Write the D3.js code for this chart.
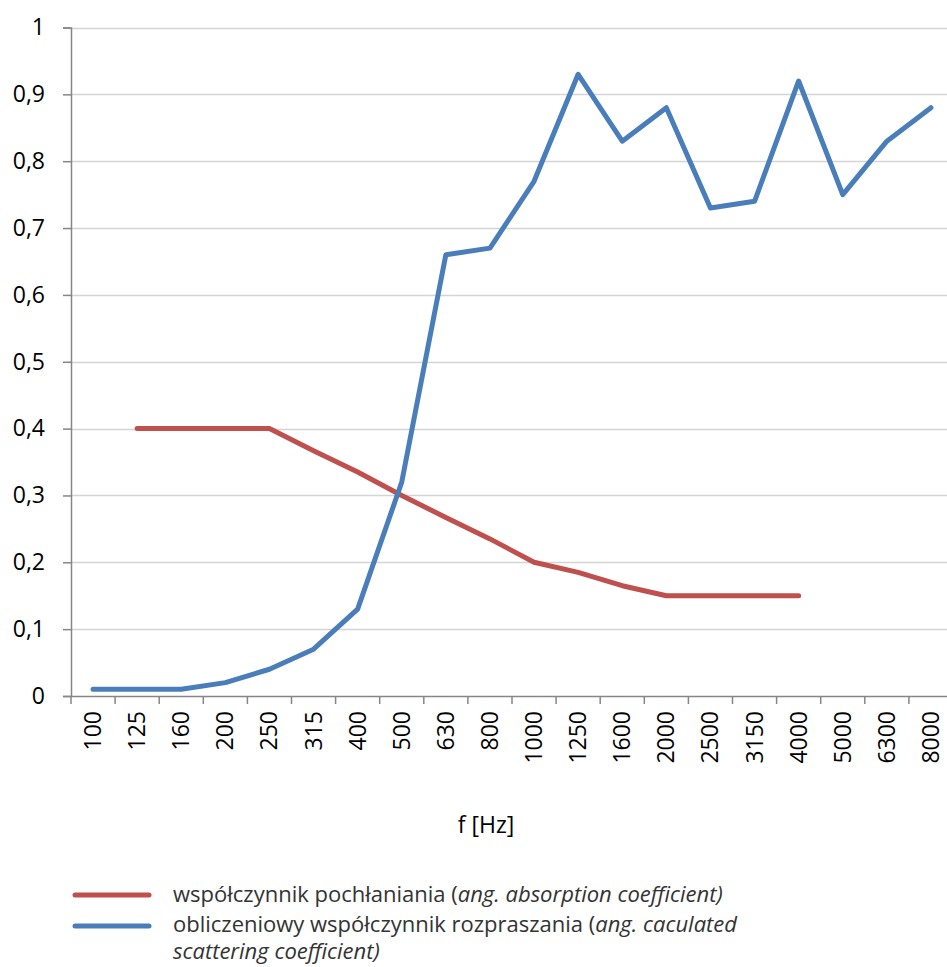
<!DOCTYPE html>
<html>
<head>
<meta charset="utf-8">
<script src="https://cdn.jsdelivr.net/npm/d3@7"></script>
<style>
  body { margin: 0; background: #fff; }
  svg { display: block; font-family: "Open Sans", "Noto Sans", sans-serif; }
</style>
</head>
<body>
<svg width="947" height="967"></svg>
<script>
// frequency bands
var freqs = ["100", "125", "160", "200", "250", "315", "400", "500", "630", "800",
  "1000", "1250", "1600", "2000", "2500", "3150", "4000", "5000", "6300", "8000"];

// absorption coefficient (125 .. 4000 Hz)
var absorption = [null, 0.4, 0.4, 0.4, 0.4, 0.367, 0.335, 0.3, 0.267, 0.235,
  0.2, 0.185, 0.165, 0.15, 0.15, 0.15, 0.15, null, null, null];

// calculated scattering coefficient
var scattering = [0.01, 0.01, 0.01, 0.02, 0.04, 0.07, 0.13, 0.32, 0.66, 0.67,
  0.77, 0.93, 0.83, 0.88, 0.73, 0.74, 0.92, 0.75, 0.83, 0.88];

var yTicks = [0, 0.1, 0.2, 0.3, 0.4, 0.5, 0.6, 0.7, 0.8, 0.9, 1];

var svg = d3.select("svg");

var x = d3.scaleBand()
    .domain(freqs)
    .range([71, 953]);

var y = d3.scaleLinear()
    .domain([0, 1])
    .range([696, 27.5]);

var fmt = function(d) { return d === 1 ? "1" : d === 0 ? "0" : d3.format(".1f")(d).replace(".", ","); };

// gridlines
svg.append("g")
  .selectAll("line")
  .data(yTicks.slice(1))
  .enter().append("line")
    .attr("x1", 71)
    .attr("x2", 947)
    .attr("y1", function(d) { return Math.round(y(d)) + 0.5; })
    .attr("y2", function(d) { return Math.round(y(d)) + 0.5; })
    .attr("stroke", "#d4d4d4")
    .attr("stroke-width", 1.5);

// y axis
var yAxis = svg.append("g")
    .attr("transform", "translate(71,0)")
    .call(d3.axisLeft(y).tickValues(yTicks).tickFormat(fmt).tickSize(8).tickPadding(18));
yAxis.select(".domain").attr("stroke", "#868686").attr("stroke-width", 1.5);
yAxis.selectAll(".tick line").attr("stroke", "#868686").attr("stroke-width", 1.5);
yAxis.selectAll("text")
    .attr("font-size", 23)
    .attr("fill", "#000")
    .attr("font-family", "Open Sans, sans-serif");

// x axis (ticks between categories)
var xg = svg.append("g");
xg.append("line")
    .attr("x1", 71).attr("x2", 947)
    .attr("y1", 696.5).attr("y2", 696.5)
    .attr("stroke", "#868686").attr("stroke-width", 1.5);
xg.selectAll(".xt")
  .data(freqs)
  .enter().append("line")
    .attr("class", "xt")
    .attr("x1", function(d) { return x(d); })
    .attr("x2", function(d) { return x(d); })
    .attr("y1", 696)
    .attr("y2", 704)
    .attr("stroke", "#868686")
    .attr("stroke-width", 1.5);
xg.selectAll(".xl")
  .data(freqs)
  .enter().append("text")
    .attr("class", "xl")
    .attr("transform", function(d) {
      return "translate(" + (x(d) + x.bandwidth() / 2 + 8) + ",711) rotate(-90)";
    })
    .attr("text-anchor", "end")
    .attr("font-size", 23)
    .attr("fill", "#000")
    .text(function(d) { return d; });

svg.append("text")
    .attr("x", 486)
    .attr("y", 833)
    .attr("text-anchor", "middle")
    .attr("font-size", 23)
    .attr("fill", "#000")
    .text("f [Hz]");

var line = d3.line()
    .defined(function(d) { return d != null; })
    .x(function(d, i) { return x(freqs[i]) + x.bandwidth() / 2; })
    .y(function(d) { return y(d); });

svg.append("path")
    .datum(absorption)
    .attr("fill", "none")
    .attr("stroke", "#C0504D")
    .attr("stroke-width", 5)
    .attr("stroke-linejoin", "round")
    .attr("stroke-linecap", "round")
    .attr("d", line);

svg.append("path")
    .datum(scattering)
    .attr("fill", "none")
    .attr("stroke", "#4A7EBB")
    .attr("stroke-width", 5)
    .attr("stroke-linejoin", "round")
    .attr("stroke-linecap", "round")
    .attr("d", line);

// legend
var leg = svg.append("g").attr("font-size", 22).attr("fill", "#333");

leg.append("line")
    .attr("x1", 75).attr("x2", 149).attr("y1", 895).attr("y2", 895)
    .attr("stroke", "#C0504D").attr("stroke-width", 5).attr("stroke-linecap", "round");
leg.append("line")
    .attr("x1", 75).attr("x2", 149).attr("y1", 926).attr("y2", 926)
    .attr("stroke", "#4A7EBB").attr("stroke-width", 5).attr("stroke-linecap", "round");

var t1 = leg.append("text").attr("x", 173).attr("y", 902);
t1.append("tspan").text("współczynnik pochłaniania (");
t1.append("tspan").attr("font-style", "italic").text("ang. absorption coefficient)");

var t2 = leg.append("text").attr("x", 173).attr("y", 932);
t2.append("tspan").text("obliczeniowy współczynnik rozpraszania (");
t2.append("tspan").attr("font-style", "italic").text("ang. caculated");

leg.append("text")
    .attr("x", 173).attr("y", 959)
    .attr("font-style", "italic")
    .text("scattering coefficient)");
</script>
</body>
</html>
